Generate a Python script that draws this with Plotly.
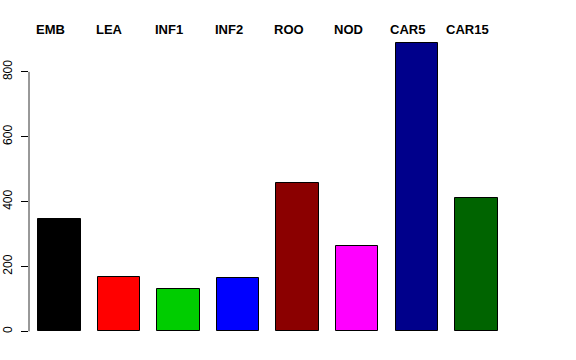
import plotly.graph_objects as go

categories = ["EMB", "LEA", "INF1", "INF2", "ROO", "NOD", "CAR5", "CAR15"]
values = [345, 168, 131, 164, 458, 263, 890, 410]
colors = ["#000000", "#FF0000", "#00CD00", "#0000FF", "#8B0000", "#FF00FF", "#00008B", "#006400"]
y_ticks = [0, 200, 400, 600, 800]

xpos = list(range(len(categories)))

fig = go.Figure()
fig.add_trace(go.Bar(
    x=xpos, y=values, width=0.713,
    marker=dict(color=colors, line=dict(color="#000000", width=1)),
    hoverinfo="skip", showlegend=False,
))

for i, c in enumerate(categories):
    fig.add_annotation(
        x=i, xref="x", y=1, yref="paper", text="<b>" + c + "</b>",
        showarrow=False, xanchor="center", yanchor="middle",
        xshift=-9, yshift=2,
        font=dict(family="Liberation Sans, Arial, sans-serif", size=13, color="#000000"),
    )

# y axis line spanning only 0..max tick, like R
fig.add_shape(type="line", xref="paper", yref="y", x0=0, x1=0,
              y0=y_ticks[0], y1=y_ticks[-1], line=dict(color="#333333", width=1))

fig.update_layout(
    width=576, height=360,
    margin=dict(l=29, r=40, t=31, b=17, autoexpand=False),
    paper_bgcolor="white", plot_bgcolor="white",
    bargap=0,
    xaxis=dict(range=[-0.508, 8.0], visible=False, fixedrange=True, automargin=False),
    yaxis=dict(
        range=[-36, 926], tickvals=y_ticks, ticktext=[str(v) for v in y_ticks],
        ticks="outside", ticklen=7, tickcolor="#000000", tickwidth=1,
        showline=False, showgrid=False, zeroline=False, tickangle=-90,
        tickfont=dict(family="Liberation Sans, Arial, sans-serif", size=12, color="#000000"),
        ticklabelstandoff=4, automargin=False,
    ),
)

fig.write_html("out.html", config={"displayModeBar": False},
               post_script="document.body.style.margin='0';document.body.style.padding='0';")
